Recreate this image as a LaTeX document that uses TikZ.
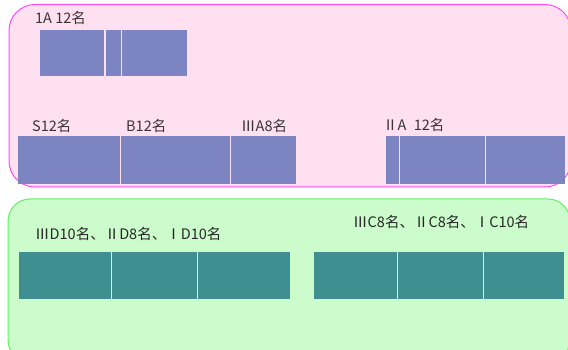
\documentclass[tikz,border=0pt]{standalone}
\usepackage{fontspec}
\setmainfont{Noto Sans CJK SC}
\definecolor{pinkbg}{HTML}{FFE0F0}
\definecolor{pinkline}{HTML}{FF4CF0}
\definecolor{greenbg}{HTML}{CCFBCC}
\definecolor{greenline}{HTML}{66EE66}
\definecolor{seatblue}{HTML}{7C85C2}
\definecolor{seatteal}{HTML}{3F8F90}
\definecolor{labelgray}{HTML}{3A3434}

\begin{document}
\begin{tikzpicture}[x=1pt,y=-1pt,
	seat/.style={fill=seatblue,anchor=north west,inner sep=0pt,outer sep=0pt},
	seatb/.style={fill=seatteal,anchor=north west,inner sep=0pt,outer sep=0pt},
	grp/.style={anchor=west,inner sep=0pt,text=labelgray,font=\fontsize{14.5}{16}\selectfont}]
		\useasboundingbox (0,0) rectangle (568,350);
		\begin{scope}
		\clip (0,0) rectangle (568,350);
		\draw[pinkline,line width=1pt,fill=pinkbg,rounded corners=26pt] (9,4.5) rectangle (571,187);
		\draw[greenline,line width=1pt,fill=greenbg,rounded corners=22pt] (8,199) rectangle (570,362);
		\end{scope}
		% upper area
		\node[seat,minimum width=64,minimum height=46] (a1) at (40,30) {};
		\node[seat,minimum width=15,minimum height=46] (a2) at (105.5,30) {};
		\node[seat,minimum width=65,minimum height=46] (a3) at (121.5,30) {};
		\node[grp] (la) at (35,18) {1A 12名};
		\node[seat,minimum width=102,minimum height=48] (s1) at (18,136) {};
		\node[seat,minimum width=109,minimum height=48] (b1) at (121,136) {};
		\node[seat,minimum width=65,minimum height=48] (c1) at (231,136) {};
		\node[grp] (ls) at (32,126) {S12名};
		\node[grp] (lb) at (126,126) {B12名};
		\node[grp] (lc) at (241,126) {ⅢA8名};
		\node[seat,minimum width=13,minimum height=48] (d1) at (386,136) {};
		\node[seat,minimum width=85,minimum height=48] (d2) at (400,136) {};
		\node[seat,minimum width=79,minimum height=48] (d3) at (486,136) {};
		\node[grp] (ld) at (383,125) {ⅡA\hspace{0.5em}12名};
		% lower area
		\node[seatb,minimum width=92,minimum height=47] (e1) at (19,252) {};
		\node[seatb,minimum width=85,minimum height=47] (e2) at (112,252) {};
		\node[seatb,minimum width=92,minimum height=47] (e3) at (198,252) {};
		\node[grp,text=black!85] (le) at (35,234) {ⅢD10名、ⅡD8名、ⅠD10名};
		\node[seatb,minimum width=83,minimum height=47] (f1) at (314,252) {};
		\node[seatb,minimum width=85,minimum height=47] (f2) at (398,252) {};
		\node[seatb,minimum width=80,minimum height=47] (f3) at (484,252) {};
		\node[grp,text=black!85] (lf) at (353,222) {ⅢC8名、ⅡC8名、ⅠC10名};
	\end{tikzpicture}
\end{document}
